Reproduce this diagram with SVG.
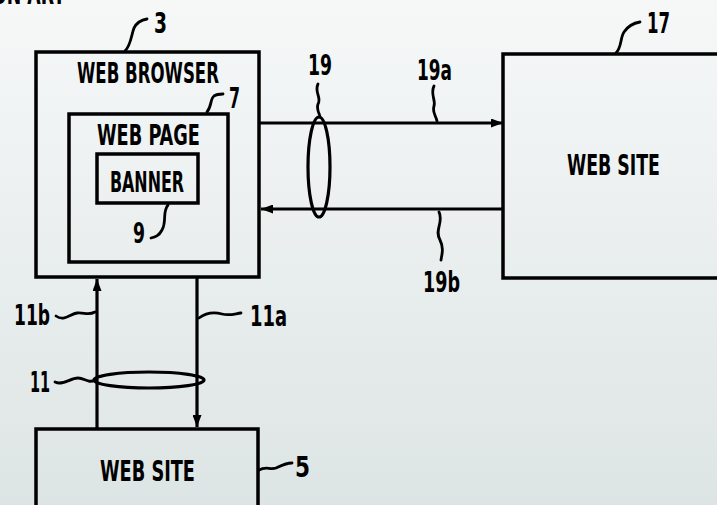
<svg xmlns="http://www.w3.org/2000/svg" width="717" height="505" viewBox="0 0 717 505">
<defs>
<linearGradient id="bg" x1="0" y1="0" x2="0" y2="1">
<stop offset="0" stop-color="#f6f8f8"/>
<stop offset="1" stop-color="#dde5e4"/>
</linearGradient>
<marker id="ah" viewBox="0 0 12 9" refX="12" refY="4.5" markerWidth="12" markerHeight="9" markerUnits="userSpaceOnUse" orient="auto">
<path d="M0,0 L12,4.5 L0,9 Z" fill="#000"/>
</marker>
<style>
.box{fill:none;stroke:#000;stroke-width:3.5}
.con{fill:none;stroke:#000;stroke-width:3.2}
.ld{fill:none;stroke:#000;stroke-width:2.8;stroke-linecap:round}
.t{font-family:"Liberation Sans Narrow","DejaVu Sans Condensed","Liberation Sans",sans-serif;font-weight:bold;fill:#000}
.big{font-size:29px}
.num{font-size:28px}
</style>
</defs>
<rect x="0" y="0" width="717" height="505" fill="url(#bg)"/>
<text class="t big" x="-8" y="4" textLength="73" lengthAdjust="spacingAndGlyphs">ON ART</text>

<g id="connectors">
<line class="con" x1="260" y1="123" x2="503" y2="123" marker-end="url(#ah)"/>
<line class="con" x1="503" y1="209" x2="261" y2="209" marker-end="url(#ah)"/>
<ellipse class="con" cx="319" cy="167" rx="11" ry="50" stroke-width="2.6"/>
<line class="con" x1="97" y1="429" x2="97" y2="279" marker-end="url(#ah)"/>
<line class="con" x1="197" y1="277" x2="197" y2="427" marker-end="url(#ah)"/>
<ellipse class="con" cx="149" cy="380" rx="55" ry="8" stroke-width="2.6"/>
</g>

<g id="browser">
<rect class="box" x="36" y="52" width="223" height="225"/>
<text class="t big" x="77" y="83" textLength="142" lengthAdjust="spacingAndGlyphs">WEB BROWSER</text>
<path class="ld" d="M125,51 C131,45 131,36 134,28 C137,22 141,20 147,19"/>
<text class="t num" x="154" y="33" textLength="13" lengthAdjust="spacingAndGlyphs">3</text>
</g>

<g id="webpage">
<rect class="box" x="69" y="114" width="159" height="148"/>
<text class="t big" x="97" y="145" textLength="103" lengthAdjust="spacingAndGlyphs">WEB PAGE</text>
<path class="ld" d="M207,112 C212,106 210,99 214,96 C217,94 220,94 223,94"/>
<text class="t num" x="229" y="108" textLength="11" lengthAdjust="spacingAndGlyphs">7</text>
</g>

<g id="banner">
<rect class="box" x="97" y="154" width="101" height="49"/>
<text class="t big" x="110" y="192" textLength="74" lengthAdjust="spacingAndGlyphs">BANNER</text>
<path class="ld" d="M168,205 C162,212 167,222 162,230 C159,236 155,237 151,238"/>
<text class="t num" x="133" y="243" textLength="12" lengthAdjust="spacingAndGlyphs">9</text>
</g>

<g id="website17">
<path class="box" d="M722,54 L503,54 L503,278 L722,278"/>
<text class="t big" x="567" y="175" textLength="93" lengthAdjust="spacingAndGlyphs">WEB SITE</text>
<path class="ld" d="M616,53 C622,47 620,38 624,32 C628,26 634,23 640,22"/>
<text class="t num" x="647" y="33" textLength="23" lengthAdjust="spacingAndGlyphs">17</text>
</g>

<g id="website5">
<path class="box" d="M36,510 L36,429 L258,429 L258,510"/>
<text class="t big" x="100" y="481" textLength="95" lengthAdjust="spacingAndGlyphs">WEB SITE</text>
<path class="ld" d="M259,470 C266,466 270,470 276,468 C282,465 286,463 292,463"/>
<text class="t num" x="295" y="477" textLength="15" lengthAdjust="spacingAndGlyphs">5</text>
</g>

<g id="labels">
<path class="ld" d="M318,84 C314,92 322,98 318,104 C316,110 320,114 320,117"/>
<text class="t num" x="308" y="75" textLength="24" lengthAdjust="spacingAndGlyphs">19</text>
<path class="ld" d="M434,86 C430,94 436,100 434,106 C432,112 436,116 437,121"/>
<text class="t num" x="417" y="80" textLength="35" lengthAdjust="spacingAndGlyphs">19a</text>
<path class="ld" d="M439,212 C444,222 434,230 440,240 C444,248 442,254 441,260"/>
<text class="t num" x="423" y="292" textLength="37" lengthAdjust="spacingAndGlyphs">19b</text>
<path class="ld" d="M56,316 C64,322 70,314 77,313 C84,312 88,316 95,312"/>
<text class="t num" x="14" y="325" textLength="36" lengthAdjust="spacingAndGlyphs">11b</text>
<path class="ld" d="M199,318 C207,312 215,312 222,314 C229,316 234,314 241,313"/>
<text class="t num" x="250" y="326" textLength="37" lengthAdjust="spacingAndGlyphs">11a</text>
<path class="ld" d="M55,382 C63,386 70,378 78,378 C85,378 88,384 95,380"/>
<text class="t num" x="30" y="392" textLength="20" lengthAdjust="spacingAndGlyphs">11</text>
</g>
</svg>
